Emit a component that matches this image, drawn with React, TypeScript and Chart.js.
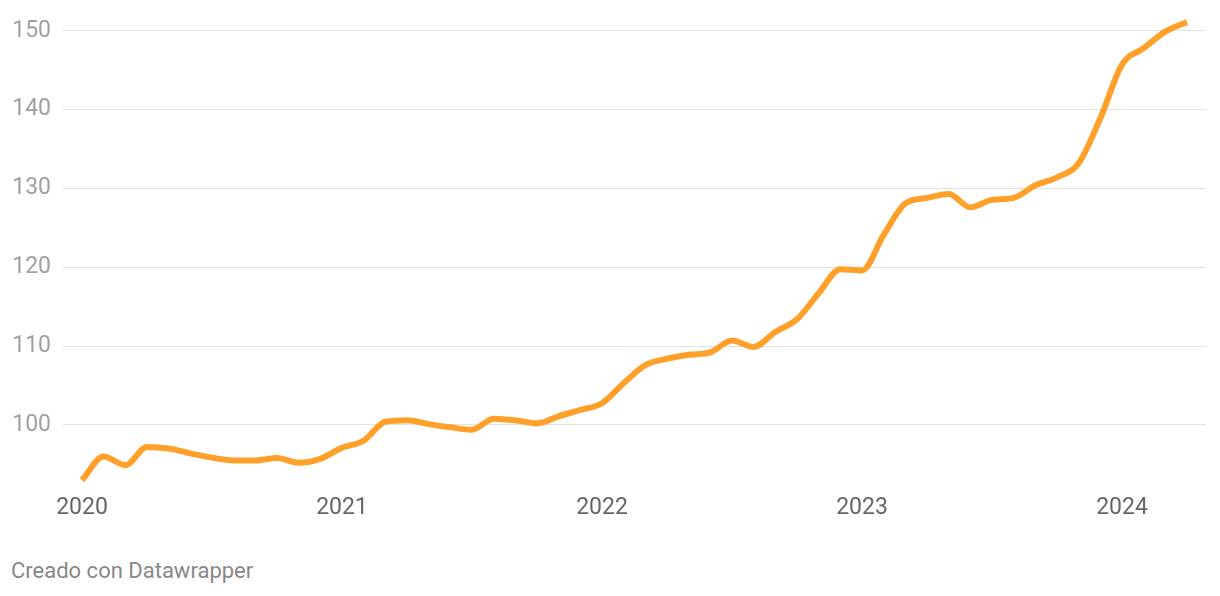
import React, { useEffect, useRef } from "react";
import { Chart, registerables } from "chart.js";

Chart.register(...registerables);

const dates: string[] = [
  "2020-01", "2020-02", "2020-03", "2020-04", "2020-05", "2020-06", "2020-07", "2020-08", "2020-09", "2020-10", "2020-11", "2020-12",
  "2021-01", "2021-02", "2021-03", "2021-04", "2021-05", "2021-06", "2021-07", "2021-08", "2021-09", "2021-10", "2021-11", "2021-12",
  "2022-01", "2022-02", "2022-03", "2022-04", "2022-05", "2022-06", "2022-07", "2022-08", "2022-09", "2022-10", "2022-11", "2022-12",
  "2023-01", "2023-02", "2023-03", "2023-04", "2023-05", "2023-06", "2023-07", "2023-08", "2023-09", "2023-10", "2023-11", "2023-12",
  "2024-01", "2024-02", "2024-03", "2024-04",
];

const values: number[] = [
  93.0, 96.0, 94.9, 97.2, 97.0, 96.4, 95.85, 95.5, 95.5, 95.8, 95.2, 95.7,
  97.1, 98.0, 100.4, 100.6, 100.1, 99.7, 99.4, 100.8, 100.6, 100.2, 101.1, 101.9,
  102.75, 105.3, 107.6, 108.4, 108.9, 109.2, 110.7, 109.9, 111.8, 113.4, 116.7, 119.75,
  119.6, 124.1, 128.1, 128.8, 129.3, 127.6, 128.55, 128.8, 130.4, 131.4, 133.2, 138.9,
  145.7, 147.8, 149.9, 151.1,
];

const yTicks: number[] = [100, 110, 120, 130, 140, 150];
const xTicks: number[] = [2020, 2021, 2022, 2023, 2024];
const footer = "Creado con Datawrapper";

function toYear(d: string): number {
  const [y, m] = d.split("-").map(Number);
  return y + (m - 1) / 12;
}

export default function App() {
  const ref = useRef<HTMLCanvasElement | null>(null);

  useEffect(() => {
    if (!ref.current) return;
    const points = dates.map((d, i) => ({ x: toYear(d), y: values[i] }));
    const chart = new Chart(ref.current, {
      type: "line",
      data: {
        datasets: [
          {
            data: points,
            borderColor: "#ffa02a",
            borderWidth: 6,
            pointRadius: 0,
            cubicInterpolationMode: "monotone",
            borderCapStyle: "butt",
            borderJoinStyle: "round",
            fill: false,
          },
        ],
      },
      options: {
        animation: false,
        responsive: false,
        devicePixelRatio: 1,
        layout: { padding: { left: 10, right: 14, top: 15, bottom: 0 } },
        plugins: { legend: { display: false }, tooltip: { enabled: false } },
        scales: {
          x: {
            type: "linear",
            min: 2020 - 19 / 260,
            max: 2020 - 19 / 260 + 1143 / 260,
            afterBuildTicks: (s: any) => {
              s.ticks = xTicks.map((v) => ({ value: v }));
            },
            afterFit: (s: any) => {
              s.height = 42;
              s.paddingLeft = 0;
              s.paddingRight = 0;
            },
            grid: { display: false, drawTicks: false },
            border: { display: false },
            ticks: {
              padding: 6,
              color: "#666666",
              font: { family: "Roboto", size: 23 },
              maxRotation: 0,
              autoSkip: false,
              callback: (v: any) => String(v),
            },
          },
          y: {
            min: 92,
            max: 152,
            afterBuildTicks: (s: any) => {
              s.ticks = yTicks.map((v) => ({ value: v }));
            },
            afterFit: (s: any) => {
              s.width = 53;
              s.paddingTop = 0;
              s.paddingBottom = 0;
            },
            grid: { color: "#e2e2e2", lineWidth: 1, drawTicks: false },
            border: { display: false },
            ticks: {
              padding: 12,
              color: "#a0a0a0",
              font: { family: "Roboto", size: 23 },
              callback: (v: any) => String(v),
            },
          },
        },
      },
    });
    return () => chart.destroy();
  }, []);

  return (
    <div style={{ position: "absolute", left: 0, top: 0, width: 1220, height: 596, background: "#fff" }}>
      <canvas ref={ref} width={1220} height={530} style={{ display: "block", width: 1220, height: 530 }} />
      <div
        style={{
          position: "absolute",
          left: 11,
          top: 558,
          fontFamily: "Roboto",
          fontSize: 22,
          lineHeight: "26px",
          color: "#888888",
          whiteSpace: "nowrap",
        }}
      >
        {footer}
      </div>
    </div>
  );
}
